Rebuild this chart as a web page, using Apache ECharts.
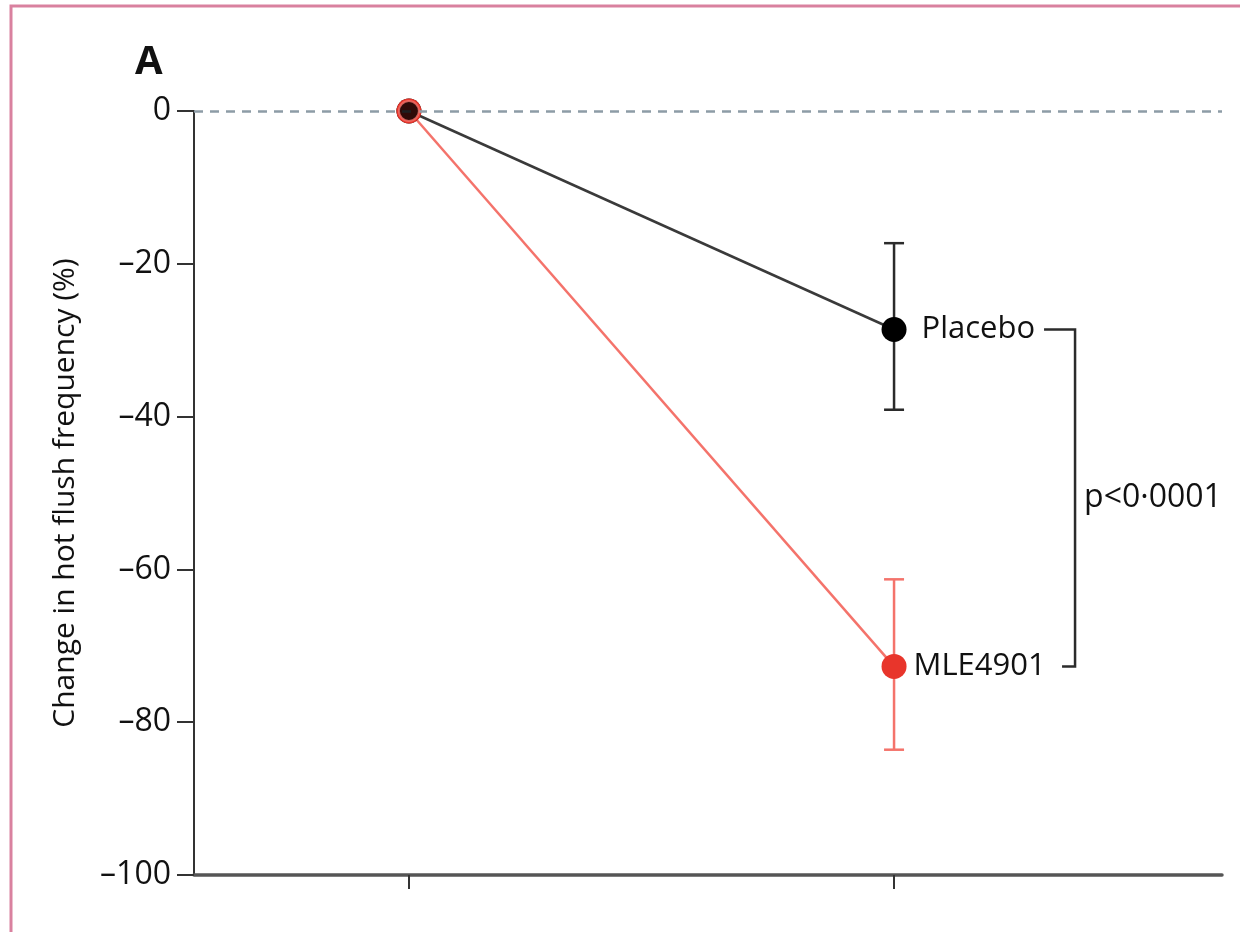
<!DOCTYPE html>
<html lang="en">
<head>
  <meta charset="UTF-8">
  <title>Hot flush frequency</title>
  <style>
    html, body {
      height: 100%;
      width: 100%;
      margin: 0;
      padding: 0;
      background: #fff;
    }
  </style>
  <script src="https://cdn.jsdelivr.net/npm/echarts@6/dist/echarts.min.js"></script>
</head>
<body>
<div id="main" style="width: 1240px; height: 932px;"></div>

<script>
  // timepoints (baseline, end of treatment) on a value axis
  var timepoints = [1, 2];
  var yTicks = [0, -20, -40, -60, -80, -100];

  var placeboMean = [0, -28.6];
  var placeboErr = [-17.3, -39.1];   // upper, lower at end
  var mleMean = [0, -72.7];
  var mleErr = [-61.3, -83.6];

  var pText = 'p<0\u00b70001';
  var font = 'Open Sans';

  var chartDom = document.getElementById('main');
  var myChart = echarts.init(chartDom);

  function pairs(xs, ys) {
    return xs.map(function (x, i) { return [x, ys[i]]; });
  }

  function errorBars(params, api) {
    var x = api.value(0);
    var hi = api.coord([x, api.value(1)]);
    var lo = api.coord([x, api.value(2)]);
    var color = api.value(3) === 1 ? '#f4736b' : '#2b2b2b';
    var style = { stroke: color, lineWidth: 2.5 };
    var w = 10;
    return {
      type: 'group',
      children: [
        { type: 'line', shape: { x1: hi[0], y1: hi[1], x2: lo[0], y2: lo[1] }, style: style },
        { type: 'line', shape: { x1: hi[0] - w, y1: hi[1], x2: hi[0] + w, y2: hi[1] }, style: style },
        { type: 'line', shape: { x1: lo[0] - w, y1: lo[1], x2: lo[0] + w, y2: lo[1] }, style: style }
      ]
    };
  }

  function bracket(params, api) {
    var x = api.value(0);
    var top = api.coord([x, api.value(1)]);
    var bot = api.coord([x, api.value(2)]);
    var vx = top[0] + 181;
    var style = { stroke: '#2b2b2b', lineWidth: 2.5, fill: null };
    return {
      type: 'group',
      children: [
        {
          type: 'polyline',
          shape: { points: [[top[0] + 150, top[1]], [vx, top[1]], [vx, bot[1]], [top[0] + 168, bot[1]]] },
          style: style
        },
        {
          type: 'text',
          x: vx + 9,
          y: (top[1] + bot[1]) / 2,
          style: {
            text: pText, fill: '#111', font: '32px "' + font + '"',
            textAlign: 'left', textVerticalAlign: 'middle'
          }
        }
      ]
    };
  }

  var option = {
    animation: false,
    graphic: [
      {
        type: 'rect',
        shape: { x: 11, y: 6, width: 1400, height: 1100 },
        style: { fill: null, stroke: '#d9819f', lineWidth: 3 },
        silent: true
      },
      {
        type: 'text',
        left: 135,
        top: 43,
        style: { text: 'A', fill: '#111', font: 'bold 40px "' + font + '"' }
      }
    ],
    grid: { left: 194, right: 18, top: 111, bottom: 57 },
    xAxis: {
      type: 'value',
      min: 0.557,
      max: 2.676,
      axisLine: { onZero: false, lineStyle: { color: '#555', width: 3.5 } },
      axisTick: { show: true, customValues: timepoints, length: 14, lineStyle: { color: '#333', width: 2 } },
      axisLabel: { show: false },
      splitLine: { show: false }
    },
    yAxis: {
      type: 'value',
      min: -100,
      max: 0,
      interval: 20,
      name: 'Change in hot flush frequency (%)',
      nameLocation: 'middle',
      nameGap: 114,
      nameRotate: 90,
      nameTextStyle: { fontFamily: font, fontSize: 30, color: '#111' },
      axisLine: { show: true, onZero: false, lineStyle: { color: '#333', width: 2 } },
      axisTick: { show: true, length: 17, lineStyle: { color: '#333', width: 2 } },
      axisLabel: {
        margin: 23,
        fontFamily: font,
        fontSize: 32,
        color: '#111',
        customValues: yTicks,
        formatter: function (v) { return String(v).replace('-', '\u2013'); }
      },
      splitLine: { show: false }
    },
    series: [
      {
        name: 'Placebo',
        type: 'line',
        data: pairs(timepoints, placeboMean),
        lineStyle: { color: '#3a3a3a', width: 2.5 },
        itemStyle: { color: '#000' },
        symbol: 'circle',
        symbolSize: 25,
        z: 3,
        label: {
          show: true,
          position: 'right',
          distance: 15,
          fontFamily: font,
          fontSize: 31,
          color: '#111',
          formatter: function (p) { return p.dataIndex === 1 ? 'Placebo' : ''; }
        },
        markLine: {
          silent: true,
          symbol: 'none',
          label: { show: false },
          lineStyle: { color: '#8d9ca6', type: [9, 7], width: 2.5 },
          data: [{ yAxis: 0 }]
        }
      },
      {
        name: 'MLE4901',
        type: 'line',
        data: pairs(timepoints, mleMean),
        lineStyle: { color: '#f4736b', width: 2.5 },
        itemStyle: { color: '#e8352b' },
        symbol: 'circle',
        symbolSize: 25,
        z: 3,
        label: {
          show: true,
          position: 'right',
          distance: 7,
          fontFamily: font,
          fontSize: 31,
          color: '#111',
          formatter: function (p) { return p.dataIndex === 1 ? 'MLE4901' : ''; }
        }
      },
      {
        // baseline point drawn on top: black with red rim
        type: 'scatter',
        data: [[timepoints[0], placeboMean[0]]],
        symbolSize: 20,
        itemStyle: { color: '#000', borderColor: '#f4736b', borderWidth: 2 },
        z: 5
      },
      {
        type: 'custom',
        renderItem: errorBars,
        data: [
          [timepoints[1], placeboErr[0], placeboErr[1], 0],
          [timepoints[1], mleErr[0], mleErr[1], 1]
        ],
        z: 2
      },
      {
        type: 'custom',
        renderItem: bracket,
        data: [[timepoints[1], placeboMean[1], mleMean[1]]],
        z: 2
      }
    ]
  };

  myChart.setOption(option);
</script>
</body>
</html>
